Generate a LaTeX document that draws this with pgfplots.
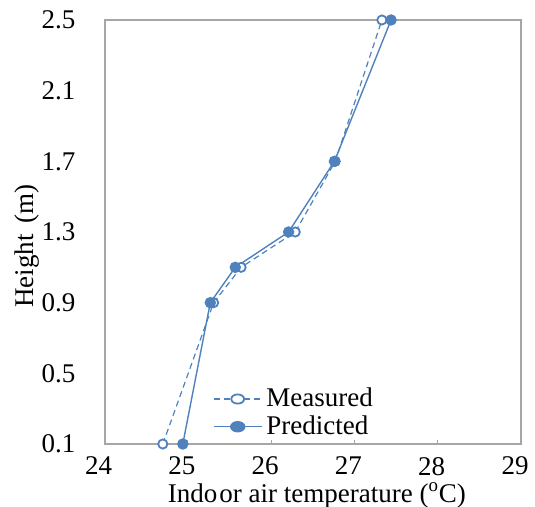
\documentclass[border=0pt]{standalone}
\usepackage{pgfplots}
\pgfplotsset{compat=1.18}
\usepackage{fontspec}
\setmainfont{Liberation Serif}
\definecolor{lineblue}{HTML}{4F81BD}
\definecolor{boxgray}{HTML}{A6A6A6}

\begin{document}
\begin{tikzpicture}
\begin{axis}[
  name=ax,
  scale only axis,
  width=208.25pt, height=212pt,
  xmin=24, xmax=29, ymin=0.1, ymax=2.5,
  xtick={24,25,26,27,28,29},
  ytick={0.1,0.5,0.9,1.3,1.7,2.1,2.5},
  /pgf/number format/assume math mode=true,
  yticklabel style={/pgf/number format/fixed, /pgf/number format/precision=1,
    /pgf/number format/fixed zerofill, xshift=-11pt},
  xticklabel style={yshift=-3pt, xshift=-3pt},
  ticklabel style={font=\fontsize{13.5}{16}\selectfont},
  tick align=inside,
  xtick pos=bottom,
  ytick style={draw=none},
  xtick style={draw=boxgray, line width=0.6pt},
  major tick length=2pt,
  axis line style={boxgray, line width=1pt},
  xlabel={Indo\hspace{1pt}or air temperature (\textsuperscript{o}C)},
  ylabel={Height\hspace{2pt} (m)},
  xlabel style={at={(axis description cs:0.51,-0.121)}, anchor=center, font=\fontsize{13.5}{16}\selectfont},
  ylabel style={at={(axis description cs:-0.186,0.467)}, anchor=center, font=\fontsize{13.5}{16}\selectfont},
  legend style={at={(axis description cs:0.255,0.0)}, anchor=south west,
    draw=none, fill=none, font=\fontsize{13.5}{16}\selectfont,
    row sep=-1pt, inner sep=1pt},
  legend cell align=left,
  legend image post style={xscale=1.4},
  clip=false,
]
\addplot[lineblue, line width=0.6pt, densely dashed,
  mark=*, mark size=2.3pt, mark options={solid, fill=white, draw=lineblue, line width=0.9pt}]
  coordinates {
  (24.70,0.1) (25.31,0.9) (25.64,1.1) (26.29,1.3) (26.77,1.7) (27.33,2.5)
};
\addlegendentry{Measured}
\addplot[lineblue, line width=0.7pt,
  mark=*, mark size=2.5pt, mark options={solid, fill=lineblue, draw=lineblue}]
  coordinates {
  (24.94,0.1) (25.27,0.9) (25.57,1.1) (26.21,1.3) (26.76,1.7) (27.44,2.5)
};
\addlegendentry{Predicted}
\end{axis}
\pgfresetboundingbox
\path[use as bounding box] ([shift={(-52.25pt,-31pt)}]ax.south west)
  rectangle ([shift={(7pt,10pt)}]ax.north east);
\end{tikzpicture}
\end{document}
